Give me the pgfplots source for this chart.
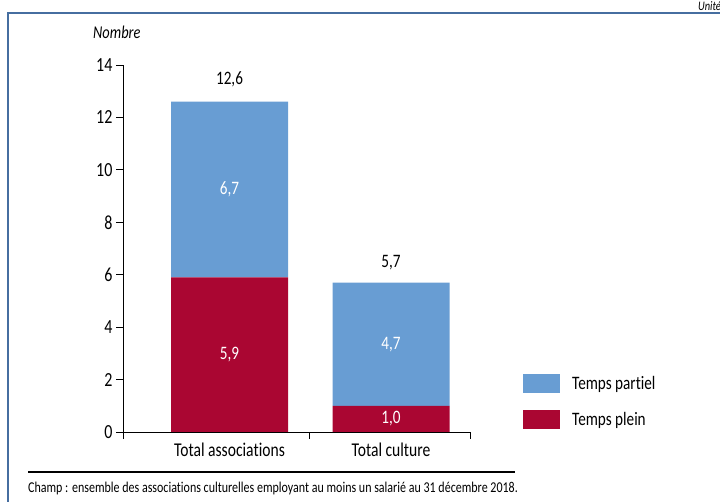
\documentclass[border=0pt]{standalone}
\usepackage{fontspec}
\setmainfont{Carlito}[FakeStretch=0.8, Ligatures={NoCommon}]
\usepackage{pgfplots}
\pgfplotsset{compat=1.18}

\definecolor{partiel}{RGB}{104,157,211}
\definecolor{plein}{RGB}{170,6,50}
\definecolor{cadre}{RGB}{70,110,160}

\begin{document}
\begin{tikzpicture}[x=1pt,y=1pt]
\useasboundingbox (0,0) rectangle (720,502);
% cadre
\draw[cadre, line width=1.6pt] (8,-10) -- (8,489) -- (740,489);
\node[anchor=west, inner sep=0, font=\itshape\fontsize{13}{15}\selectfont] at (698,496) {Unités};
\node[anchor=west, inner sep=0, font=\itshape\fontsize{18}{20}\selectfont] at (93,470) {Nombre};

\begin{axis}[
    at={(123pt,70pt)}, anchor=south west,
    scale only axis, width=347pt, height=367pt,
    xmin=123, xmax=470, ymin=0, ymax=14,
    axis x line*=bottom, axis y line*=left,
    axis line style={line width=0.9pt},
    tick style={line width=0.9pt, black},
    tick align=outside, major tick length=7pt,
    ytick={0,2,...,14},
    xtick={123,309,470}, xticklabels={},
    extra x ticks={229.5,391},
    extra x tick labels={Total associations, Total culture},
    extra x tick style={major tick length=0pt, tick label style={yshift=-7pt}},
    ticklabel style={font=\fontsize{19.5}{22}\selectfont},
    y tick label style={font=\fontsize{20}{22}\selectfont},
    /pgf/number format/assume math mode=true,
    ybar stacked, bar width=117,
    clip=false,
    /pgfplots/legend image code/.code={\fill[#1] (0pt,-9.5pt) rectangle (37pt,9.5pt);},
    reverse legend,
    legend style={draw=none, fill=none, at={(1.1527,0.008)}, anchor=south west,
        inner sep=0pt, row sep=17pt, font=\fontsize{19}{21}\selectfont,
        cells={anchor=west},
        /tikz/every odd column/.append style={column sep=10pt}},
    legend cell align=left,
]
\addplot[fill=plein, draw=none] coordinates {(229.5,5.9) (391,1.0)};
\addplot[fill=partiel, draw=none] coordinates {(229.5,6.7) (391,4.7)};
\legend{Temps plein, Temps partiel}

\coordinate (a1) at (axis cs:229.5,2.95);
\coordinate (a2) at (axis cs:229.5,9.25);
\coordinate (a3) at (axis cs:229.5,13.44);
\coordinate (c1) at (axis cs:391,0.5);
\coordinate (c2) at (axis cs:391,3.35);
\coordinate (c3) at (axis cs:391,6.45);
\end{axis}

\begin{scope}[every node/.style={font=\fontsize{19}{21}\selectfont}]
\node[white] at (a1) {5,9};
\node[white] at (a2) {6,7};
\node at (a3) {12,6};
\node[white] at (c1) {1,0};
\node[white] at (c2) {4,7};
\node at (c3) {5,7};
\end{scope}

% champ
\draw[line width=1.2pt] (28,30) -- (515,30);
\node[anchor=west, inner sep=0, font=\fontsize{15}{17}\selectfont] at (28,13) {Champ : ensemble des associations culturelles employant au moins un salarié au 31 décembre 2018.};
\end{tikzpicture}
\end{document}
